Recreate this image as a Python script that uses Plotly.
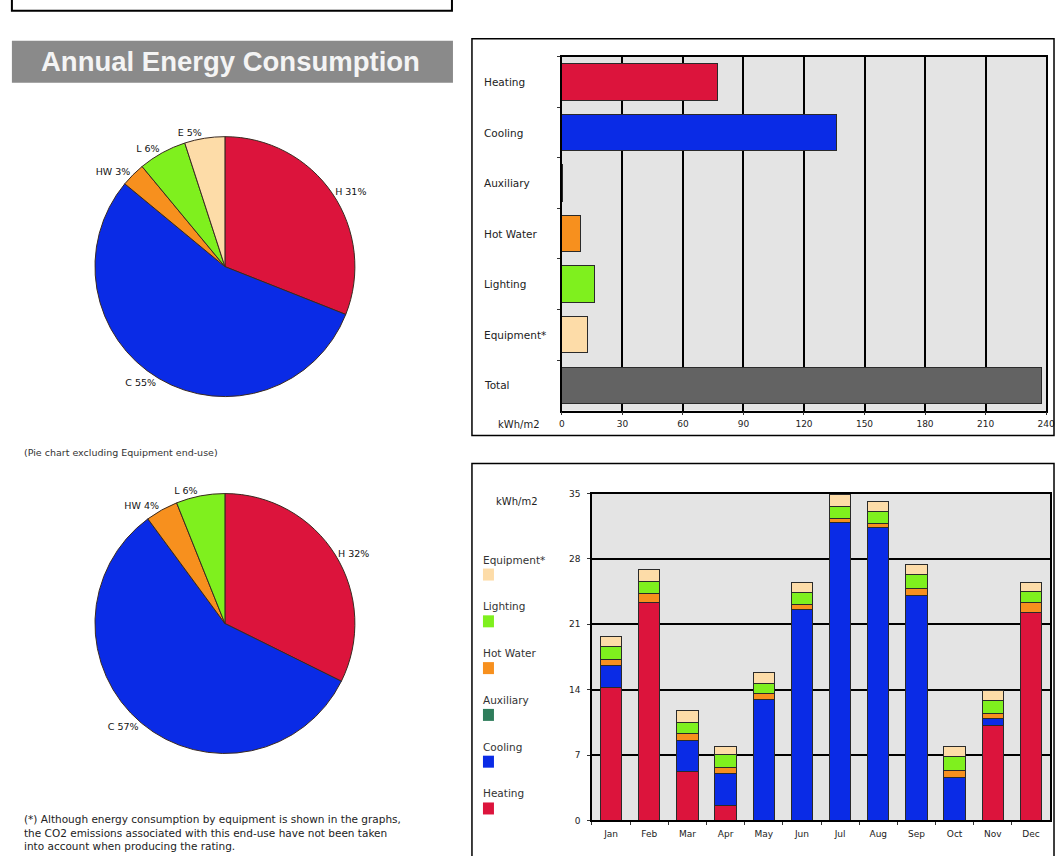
import plotly.graph_objects as go

W, H = 1064, 856

# ---------------- data ----------------
end_uses = ["Heating", "Cooling", "Auxiliary", "Hot Water", "Lighting", "Equipment*", "Total"]
annual_kwh_m2 = [77, 136, 0.3, 9, 16, 12.5, 238]

pie1_labels = ["H", "C", "HW", "L", "E"]
pie1_pct = [31, 55, 3, 6, 5]
pie2_labels = ["H", "C", "HW", "L"]
pie2_pct = [32, 57, 4, 6]

months = ["Jan", "Feb", "Mar", "Apr", "May", "Jun", "Jul", "Aug", "Sep", "Oct", "Nov", "Dec"]
heating = [14.2, 23.3, 5.2, 1.6, 0, 0, 0, 0, 0, 0, 10.2, 22.3]
cooling = [2.4, 0.0, 3.4, 3.4, 13.0, 22.6, 31.9, 31.4, 24.1, 4.6, 0.7, 0.0]
auxiliary = [0, 0, 0, 0, 0, 0, 0, 0, 0, 0, 0, 0]
hot_water = [0.6, 1.0, 0.7, 0.7, 0.6, 0.5, 0.4, 0.4, 0.7, 0.8, 0.6, 1.0]
lighting = [1.4, 1.3, 1.2, 1.4, 1.1, 1.3, 1.3, 1.3, 1.5, 1.4, 1.3, 1.2]
equipment = [1.1, 1.3, 1.3, 0.8, 1.1, 1.1, 1.3, 1.1, 1.1, 1.1, 1.1, 1.0]

monthly_ticks = [0, 7, 14, 21, 28, 35]
annual_ticks = [0, 30, 60, 90, 120, 150, 180, 210, 240]

# ---------------- styles ----------------
C_HEAT = "#DC143C"
C_COOL = "#0A2BE6"
C_AUX = "#2E7D5B"
C_HW = "#F7901E"
C_LIGHT = "#7FF01E"
C_EQUIP = "#FDDCA8"
C_TOTAL = "#636363"
BG = "#E4E4E4"
EDGE = "#2a2a2a"
FONT = "DejaVu Sans, Verdana, sans-serif"
TFONT = "Liberation Sans, Arial, sans-serif"

bar_colors = [C_HEAT, C_COOL, C_AUX, C_HW, C_LIGHT, C_EQUIP, C_TOTAL]
pie1_colors = [C_HEAT, C_COOL, C_HW, C_LIGHT, C_EQUIP]
pie2_colors = [C_HEAT, C_COOL, C_HW, C_LIGHT]

# layout helpers: target picture pixels -> paper fractions
# (the page photo shows the figure slightly inset/scaled; compensate)
K, OX, OY = 0.9886, 3.1, 4.3


def px(x):
    return min((x - OX) / K, W - 1) / W


def py(y):
    return 1 - ((y - OY) / K) / H


fig = go.Figure()

# ---------------- pies ----------------
for labels, vals, cols, (top, bot) in [(pie1_labels, pie1_pct, pie1_colors, (136, 396)),
                                        (pie2_labels, pie2_pct, pie2_colors, (493, 753))]:
    fig.add_trace(go.Pie(
        labels=labels, values=vals, sort=False, direction="clockwise", rotation=0,
        marker=dict(colors=cols, line=dict(color="#3a2a20", width=1)),
        textposition="outside", texttemplate="%{label} %{value}%",
        textfont=dict(size=9.5, color="#111", family=FONT),
        domain=dict(x=[px(95), px(355)], y=[py(bot), py(top)]),
        showlegend=False, hoverinfo="label+value"))

# ---------------- annual bar chart ----------------
fig.add_trace(go.Bar(
    x=annual_kwh_m2, y=end_uses, orientation="h",
    marker=dict(color=bar_colors, line=dict(color=EDGE, width=1)),
    xaxis="x", yaxis="y", showlegend=False, width=0.72))

# ---------------- monthly stacked chart ----------------
series = [("Heating", heating, C_HEAT), ("Cooling", cooling, C_COOL),
          ("Auxiliary", auxiliary, C_AUX), ("Hot Water", hot_water, C_HW),
          ("Lighting", lighting, C_LIGHT), ("Equipment*", equipment, C_EQUIP)]
for name, vals, col in series:
    fig.add_trace(go.Bar(
        x=months, y=vals, name=name, marker=dict(color=col, line=dict(color=EDGE, width=1)),
        xaxis="x2", yaxis="y2", showlegend=False, width=0.56))

axis_font = dict(size=9, color="#222", family=FONT)

fig.update_layout(
    width=W, height=H, margin=dict(l=0, r=0, t=0, b=0),
    paper_bgcolor="white", plot_bgcolor=BG, barmode="stack",
    font=dict(family=FONT),
    xaxis=dict(domain=[px(562), px(1046)], anchor="y", range=[0, 240], tickvals=annual_ticks,
               showgrid=True, gridcolor="black", gridwidth=1.6, zeroline=False,
               showline=True, linecolor="black", linewidth=1.6, mirror=True,
               tickfont=axis_font, ticks="outside", ticklen=3, tickcolor="#333",
               ticklabelstandoff=1),
    yaxis=dict(domain=[py(410), py(56)], anchor="x", categoryorder="array",
               categoryarray=end_uses, autorange="reversed", showticklabels=False,
               showgrid=False, zeroline=False, showline=True, linecolor="black",
               linewidth=1.6, mirror=True, ticks="outside", tickson="boundaries",
               ticklen=3, tickcolor="#333"),
    xaxis2=dict(domain=[px(592), px(1050)], anchor="y2", showgrid=False, zeroline=False,
                showline=True, linecolor="black", linewidth=1.6, mirror=True,
                tickfont=axis_font, ticks="outside", tickson="boundaries", ticklen=3,
                tickcolor="#333", ticklabelstandoff=4),
    yaxis2=dict(domain=[py(820), py(493)], anchor="x2", range=[0, 35], tickvals=monthly_ticks,
                showgrid=True, gridcolor="black", gridwidth=1.6, zeroline=False,
                showline=True, linecolor="black", linewidth=1.6, mirror=True,
                tickfont=axis_font, ticks="outside", ticklen=3, tickcolor="#333",
                ticklabelstandoff=5),
)

annotations = []
shapes = []

# outer frames / title bar
shapes.append(dict(type="rect", xref="paper", yref="paper", x0=px(12), x1=px(452),
                   y0=py(10), y1=py(-30), line=dict(color="black", width=2)))
shapes.append(dict(type="rect", xref="paper", yref="paper", x0=px(12), x1=px(453),
                   y0=py(82), y1=py(40), fillcolor="#8a8a8a", line=dict(width=0)))
shapes.append(dict(type="rect", xref="paper", yref="paper", x0=px(472), x1=px(1062),
                   y0=py(435), y1=py(38), line=dict(color="black", width=1.5)))
shapes.append(dict(type="rect", xref="paper", yref="paper", x0=px(472), x1=px(1062),
                   y0=py(880), y1=py(463), line=dict(color="black", width=1.5)))

annotations.append(dict(text="<b>Annual Energy Consumption</b>", xref="paper", yref="paper",
                        x=px(231), y=py(61), xanchor="center", yanchor="middle", showarrow=False,
                        font=dict(size=27.5, color="#f4f4f4", family=TFONT)))
annotations.append(dict(text="(Pie chart excluding Equipment end-use)", xref="paper", yref="paper",
                        x=px(22), y=py(452), xanchor="left", yanchor="middle", showarrow=False,
                        font=dict(size=9.5, color="#333", family=FONT)))
annotations.append(dict(
    text="(*) Although energy consumption by equipment is shown in the graphs,<br>"
         "the CO2 emissions associated with this end-use have not been taken<br>"
         "into account when producing the rating.",
    xref="paper", yref="paper", x=px(22), y=py(811), xanchor="left", yanchor="top",
    align="left", showarrow=False, font=dict(size=10.5, color="#222", family=FONT)))

# annual chart category labels (left aligned)
for cat in end_uses:
    annotations.append(dict(text=cat, xref="paper", yref="y", x=px(482), y=cat,
                            xanchor="left", yanchor="middle", showarrow=False,
                            font=dict(size=10.5, color="#222", family=FONT)))
annotations.append(dict(text="kWh/m2", xref="paper", yref="paper", x=px(519), y=py(424),
                        xanchor="center", yanchor="middle",
                        showarrow=False, font=dict(size=10, color="#222", family=FONT)))
annotations.append(dict(text="kWh/m2", xref="paper", yref="paper", x=px(517), y=py(501),
                        xanchor="center", yanchor="middle",
                        showarrow=False, font=dict(size=10, color="#222", family=FONT)))

# monthly chart legend: text above swatch, top to bottom
legend_items = [("Equipment*", C_EQUIP), ("Lighting", C_LIGHT), ("Hot Water", C_HW),
                ("Auxiliary", C_AUX), ("Cooling", C_COOL), ("Heating", C_HEAT)]
for i, (name, col) in enumerate(legend_items):
    ty = 559 + i * 46.8
    annotations.append(dict(text=name, xref="paper", yref="paper", x=px(481), y=py(ty),
                            xanchor="left", yanchor="middle", showarrow=False,
                            font=dict(size=10.5, color="#333", family=FONT)))
    shapes.append(dict(type="rect", xref="paper", yref="paper", x0=px(483), x1=px(494),
                       y0=py(ty + 21), y1=py(ty + 9), fillcolor=col, line=dict(width=0)))

fig.update_layout(annotations=annotations, shapes=shapes)

css = ("document.documentElement.style.margin='0px';document.documentElement.style.padding='0px';"
       "document.documentElement.style.overflow='hidden';"
       "document.body.style.margin='0px';document.body.style.padding='0px';"
       "document.body.style.overflow='hidden';")
fig.write_html("out.html", config={"displayModeBar": False}, post_script=css)
